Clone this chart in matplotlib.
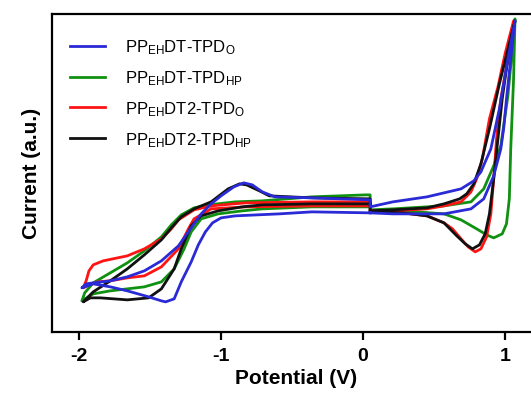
import matplotlib as mpl
import matplotlib.pyplot as plt

mpl.rcParams.update(
    {
        "font.family": "sans-serif",
        "font.sans-serif": ["Liberation Sans", "DejaVu Sans"],
        "mathtext.fontset": "custom",
        "mathtext.rm": "Liberation Sans",
        "mathtext.it": "Liberation Sans",
        "mathtext.bf": "Liberation Sans:bold",
        "axes.linewidth": 1.6,
    }
)

# cyclic voltammograms: potential (V) / current (a.u.)
# each trace: n-doping loop (lower branch out to -2 V, upper branch back),
# then p-doping loop (anodic out to ~1 V, return branch back)
DT_O_V = [0.05, -0.36, -0.59, -0.90, -1.00, -1.06, -1.11, -1.16, -1.21, -1.28, -1.33, -1.39, -1.42, -1.51, -1.66, -1.78, -1.90, -1.98,
          -1.95, -1.90, -1.78, -1.66, -1.54, -1.42, -1.30, -1.23, -1.14, -1.07, -1.00, -0.91, -0.84, -0.78, -0.71, -0.62, -0.36, 0.05,
          0.05, 0.21, 0.45, 0.69, 0.78, 0.83, 0.90, 0.96, 1.02, 1.07,
          1.04, 1.01, 0.99, 0.97, 0.92, 0.85, 0.76, 0.57, 0.21, 0.05]
DT_O_I = [-0.7, -0.6, -0.8, -1.0, -1.2, -1.7, -2.6, -3.9, -5.6, -7.6, -9.3, -9.6, -9.5, -9.1, -8.5, -8.1, -7.8, -8.2,
          -7.8, -7.7, -7.5, -7.1, -6.5, -5.5, -4.0, -2.6, -0.8, 0.2, 1.0, 1.9, 2.3, 2.1, 1.4, 0.9, 0.8, 0.6,
          -0.1, 0.4, 0.9, 1.7, 2.5, 3.4, 5.7, 9.7, 14.7, 18.5,
          14.7, 10.7, 7.7, 5.7, 3.0, 0.7, -0.3, -0.8, -0.8, -0.7]

DT_HP_V = [0.05, -0.36, -0.71, -0.85, -1.02, -1.14, -1.21, -1.26, -1.33, -1.42, -1.54, -1.78, -1.90, -1.98,
           -1.96, -1.90, -1.78, -1.66, -1.54, -1.42, -1.35, -1.28, -1.19, -1.09, -0.90, -0.71, -0.36, 0.02, 0.05,
           0.05, 0.21, 0.57, 0.76, 0.85, 0.92, 0.97, 1.02, 1.05, 1.07,
           1.06, 1.04, 1.03, 1.01, 0.98, 0.92, 0.87, 0.80, 0.69, 0.57, 0.28, 0.05]
DT_HP_I = [-0.1, -0.1, -0.3, -0.5, -0.8, -1.3, -2.6, -4.3, -6.3, -7.6, -8.1, -8.5, -8.8, -9.5,
           -8.7, -7.7, -6.7, -5.7, -4.5, -3.1, -1.9, -0.9, -0.2, 0.1, 0.4, 0.5, 0.9, 1.1, 1.1,
           -0.4, -0.3, 0.0, 0.4, 1.7, 4.0, 6.0, 11.0, 15.5, 18.7,
           12.7, 5.7, 0.7, -1.8, -2.8, -3.2, -2.9, -2.3, -1.4, -0.8, -0.5, -0.5]

DT2_O_V = [0.05, -0.36, -0.83, -1.07, -1.19, -1.23, -1.30, -1.42, -1.54, -1.66, -1.78, -1.87, -1.93, -1.97,
           -1.95, -1.93, -1.90, -1.83, -1.66, -1.54, -1.42, -1.35, -1.30, -1.19, -1.07, -0.83, -0.36, 0.05,
           0.05, 0.21, 0.45, 0.57, 0.69, 0.76, 0.80, 0.84, 0.89, 0.95, 1.00, 1.06,
           1.02, 0.97, 0.94, 0.92, 0.90, 0.87, 0.83, 0.79, 0.74, 0.69, 0.63, 0.57, 0.45, 0.28, 0.05]
DT2_O_I = [0.0, 0.0, -0.1, -0.3, -1.3, -2.3, -4.3, -6.1, -7.0, -7.2, -7.5, -7.6, -7.9, -8.2,
           -7.5, -6.5, -5.9, -5.5, -5.0, -4.3, -3.3, -2.3, -1.4, -0.4, 0.0, 0.3, 0.4, 0.4,
           -0.5, -0.5, -0.3, 0.0, 0.4, 1.4, 2.7, 4.7, 8.7, 11.9, 15.2, 18.5,
           14.7, 10.7, 6.7, 2.7, -0.8, -3.1, -4.3, -4.6, -4.1, -3.3, -2.3, -1.7, -1.0, -0.7, -0.6]

DT2_HP_V = [0.05, -0.36, -0.71, -0.85, -1.02, -1.14, -1.21, -1.28, -1.33, -1.42, -1.51, -1.66, -1.85, -1.92, -1.97,
            -1.90, -1.78, -1.66, -1.54, -1.42, -1.35, -1.28, -1.19, -1.07, -0.95, -0.87, -0.82, -0.73, -0.66, -0.36, 0.05,
            0.05, 0.21, 0.45, 0.57, 0.68, 0.73, 0.78, 0.83, 0.89, 0.96, 1.07,
            1.02, 0.98, 0.95, 0.92, 0.89, 0.86, 0.82, 0.77, 0.72, 0.66, 0.57, 0.45, 0.28, 0.05]
DT2_HP_I = [0.2, 0.2, 0.1, -0.1, -0.5, -1.0, -2.0, -4.3, -6.3, -8.3, -9.2, -9.4, -9.2, -9.2, -9.6,
            -8.6, -7.5, -6.3, -4.9, -3.4, -2.2, -1.1, -0.3, 0.4, 1.7, 2.2, 2.1, 1.5, 1.0, 0.8, 0.7,
            -0.5, -0.4, -0.2, 0.2, 0.7, 1.2, 2.2, 4.2, 7.7, 12.2, 18.5,
            14.7, 10.7, 6.7, 2.7, -0.8, -2.8, -3.9, -4.3, -3.8, -3.0, -1.7, -1.0, -0.7, -0.6]

LABELS = [
    r"PP$_{\mathrm{EH}}$DT-TPD$_{\mathrm{O}}$",
    r"PP$_{\mathrm{EH}}$DT-TPD$_{\mathrm{HP}}$",
    r"PP$_{\mathrm{EH}}$DT2-TPD$_{\mathrm{O}}$",
    r"PP$_{\mathrm{EH}}$DT2-TPD$_{\mathrm{HP}}$",
]
COLORS = ["#2a2ad6", "#119111", "#ff1414", "#111111"]
XTICKS = [-2, -1, 0, 1]

fig = plt.figure(figsize=(5.31, 4.02), dpi=100)
ax = fig.add_axes([0.098, 0.172, 0.92, 0.791])

traces = [(DT_O_V, DT_O_I), (DT_HP_V, DT_HP_I), (DT2_O_V, DT2_O_I), (DT2_HP_V, DT2_HP_I)]
lines = []
for (v, i), c, lab in zip(traces, COLORS, LABELS):
    (ln,) = ax.plot(v, i, color=c, lw=2.0, label=lab, solid_joinstyle="round")
    lines.append(ln)
# blue sits on top in the original
lines[0].set_zorder(3)

ax.set_xlim(-2.19, 1.25)
ax.set_ylim(-12.6, 19.2)
ax.set_xticks(XTICKS)
ax.set_xticklabels([str(t) for t in XTICKS], fontweight="bold", fontsize=14)
ax.set_yticks([])
ax.tick_params(axis="x", direction="out", length=6, width=1.6, pad=5)
ax.set_xlabel("Potential (V)", fontweight="bold", fontsize=15, labelpad=3)
ax.set_ylabel("Current (a.u.)", fontweight="bold", fontsize=15, labelpad=8)

ax.legend(
    loc="upper left",
    bbox_to_anchor=(0.037, 0.925),
    frameon=False,
    fontsize=12,
    borderpad=0,
    borderaxespad=0,
    handlelength=2.1,
    handletextpad=1.2,
    labelspacing=0.72,
)

fig.savefig("out.png", dpi=100)
